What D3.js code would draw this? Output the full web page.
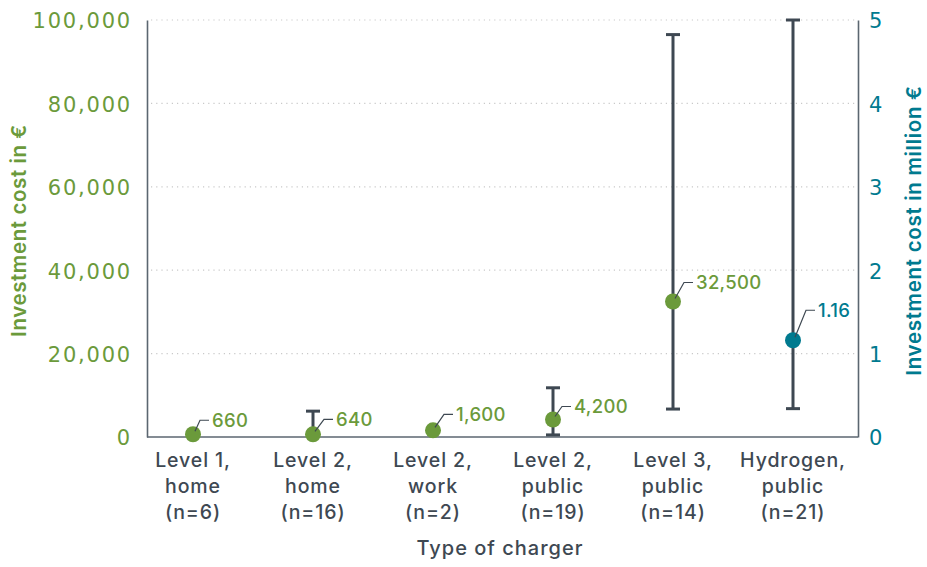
<!DOCTYPE html>
<html>
<head>
<meta charset="utf-8">
<script src="https://cdn.jsdelivr.net/npm/d3@7"></script>
<style>
  body { margin: 0; background: #fff; }
  svg { display: block; font-family: "DejaVu Sans", sans-serif; }
</style>
</head>
<body>
<svg id="chart" width="927" height="567"></svg>
<script>
'use strict';

// categories (three label lines each)
var categories = ["l1home", "l2home", "l2work", "l2public", "l3public", "h2public"];
var catLines = [
    ["Level 1,", "home", "(n=6)"],
    ["Level 2,", "home", "(n=16)"],
    ["Level 2,", "work", "(n=2)"],
    ["Level 2,", "public", "(n=19)"],
    ["Level 3,", "public", "(n=14)"],
    ["Hydrogen,", "public", "(n=21)"]
];
// values in euro (hydrogen is read against right axis, in million euro)
var values   = [660, 640, 1600, 4200, 32500, 1.16];
var lows     = [null, 300, null, 500, 6700, 0.34];
var highs    = [null, 6200, null, 11800, 96500, 5.0];
var axisSide = ["left", "left", "left", "left", "left", "right"];
var valueLabels = ["660", "640", "1,600", "4,200", "32,500", "1.16"];
var leftTicks  = [0, 20000, 40000, 60000, 80000, 100000];
var rightTicks = [0, 1, 2, 3, 4, 5];
// leader line offsets for labels [dx, dy]
var labelOffset = [[19, -14], [23, -15], [23, -16], [21, -13], [23, -19], [25, -30]];

var GREEN = "#6b9a3b", TEAL = "#007a8f", GRAY = "#3e4852";
var FONT = "DejaVu Sans, sans-serif",
    FONT2 = "Inter, sans-serif";

var svg = d3.select("#chart"),
    m = {left: 147, right: 858, top: 20, bottom: 437};

var yL = d3.scaleLinear().domain([0, 100000]).range([m.bottom, m.top]),
    yR = d3.scaleLinear().domain([0, 5]).range([m.bottom, m.top]),
    x  = d3.scalePoint().domain(categories).range([m.left + 46, m.right - 65]);

function yFor(i) { return axisSide[i] == "right" ? yR : yL; }

// grid
svg.append("g").selectAll("line").data(leftTicks.slice(1)).enter().append("line")
    .attr("x1", m.left + 4).attr("x2", m.right - 3)
    .attr("y1", function(d){return yL(d)}).attr("y2", function(d){return yL(d)})
    .attr("stroke", "#c9c9c9").attr("stroke-width", 1.2)
    .attr("stroke-dasharray", "1.2,4");

// left axis
var gl = svg.append("g").attr("transform", "translate(" + m.left + ",0)")
    .call(d3.axisLeft(yL).tickValues(leftTicks).tickSize(0).tickPadding(15)
        .tickFormat(d3.format(",")));
gl.select(".domain").attr("stroke", "#5b6670").attr("stroke-width", 1.6);
gl.selectAll("text").attr("fill", GREEN).attr("font-size", 21)
    .attr("font-family", FONT).attr("dy", "0.38em").attr("letter-spacing", 1.8);

// right axis
var gr = svg.append("g").attr("transform", "translate(" + m.right + ",0)")
    .call(d3.axisRight(yR).tickValues(rightTicks).tickSize(0).tickPadding(11)
        .tickFormat(d3.format("d")));
gr.select(".domain").attr("stroke", "#5b6670").attr("stroke-width", 1.6);
gr.selectAll("text").attr("fill", TEAL).attr("font-size", 21)
    .attr("font-family", FONT).attr("dy", "0.38em");

// bottom line
svg.append("line").attr("x1", m.left).attr("x2", m.right)
    .attr("y1", m.bottom).attr("y2", m.bottom)
    .attr("stroke", "#5b6670").attr("stroke-width", 1.6);

// category labels
var cl = svg.append("g").selectAll("text").data(categories).enter().append("text")
    .attr("x", function(d){return x(d)}).attr("y", m.bottom + 30)
    .attr("text-anchor", "middle").attr("fill", GRAY)
    .attr("font-family", FONT2).attr("font-size", 19.5).attr("font-weight", 500)
    .attr("letter-spacing", 0.9);
cl.selectAll("tspan").data(function(d, i){return catLines[i]}).enter().append("tspan")
    .attr("x", function(){return x(d3.select(this.parentNode).datum())})
    .attr("dy", function(d, i){return i == 0 ? 0 : 26})
    .text(function(d){return d});

// axis titles
svg.append("text").attr("x", 500).attr("y", 555).attr("text-anchor", "middle")
    .attr("fill", GRAY).attr("font-family", FONT2).attr("font-size", 20).attr("font-weight", 500)
    .attr("letter-spacing", 1)
    .text("Type of charger");
svg.append("text").attr("transform", "translate(26," + ((m.top + m.bottom) / 2 + 2) + ") rotate(-90)")
    .attr("text-anchor", "middle").attr("fill", GREEN).attr("font-family", FONT2)
    .attr("font-size", 20.5).attr("font-weight", 600).attr("letter-spacing", 0.6)
    .text("Investment cost in €");
svg.append("text").attr("transform", "translate(921," + ((m.top + m.bottom) / 2 + 2) + ") rotate(-90)")
    .attr("text-anchor", "middle").attr("fill", TEAL).attr("font-family", FONT2)
    .attr("font-size", 20.5).attr("font-weight", 600).attr("letter-spacing", 0.7)
    .text("Investment cost in million €");

// error bars
var idx = d3.range(categories.length).filter(function(i){return highs[i] != null});
var eb = svg.append("g").attr("stroke", GRAY).attr("stroke-width", 3);
idx.forEach(function(i){
    var cx = x(categories[i]), y = yFor(i);
    eb.append("line").attr("x1", cx).attr("x2", cx).attr("y1", y(lows[i])).attr("y2", y(highs[i]));
    [lows[i], highs[i]].forEach(function(v){
        eb.append("line").attr("x1", cx - 7).attr("x2", cx + 7).attr("y1", y(v)).attr("y2", y(v));
    });
});

// points and labels
categories.forEach(function(c, i){
    var cx = x(c), cy = yFor(i)(values[i]),
        col = axisSide[i] == "right" ? TEAL : GREEN,
        o = labelOffset[i];
    svg.append("circle").attr("cx", cx).attr("cy", cy).attr("r", 8).attr("fill", col);
    svg.append("path")
        .attr("d", "M" + (cx + 2) + "," + (cy - 3) + "L" + (cx + o[0] - 12) + "," + (cy + o[1])
            + "L" + (cx + o[0] - 3) + "," + (cy + o[1]))
        .attr("fill", "none").attr("stroke", GRAY).attr("stroke-width", 1.2);
    svg.append("text").attr("x", cx + o[0]).attr("y", cy + o[1] + 7)
        .attr("fill", col).attr("font-family", FONT2).attr("font-size", 18.5).attr("font-weight", 500)
        .attr("letter-spacing", 0.3)
        .text(valueLabels[i]);
});
</script>
</body>
</html>
